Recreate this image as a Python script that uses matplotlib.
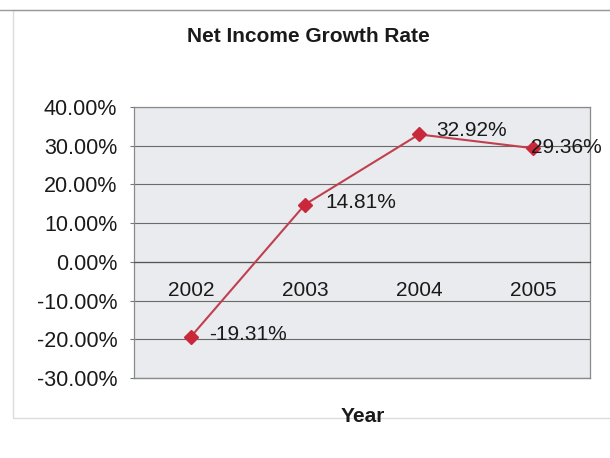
import matplotlib
matplotlib.use("Agg")
import matplotlib.pyplot as plt
from matplotlib.patches import Rectangle
from matplotlib.lines import Line2D
from matplotlib.ticker import FuncFormatter

plt.rcParams['font.family'] = ['Liberation Sans', 'DejaVu Sans']

# Net income growth rate by year (percent)
years = ["2002", "2003", "2004", "2005"]
growth = [-19.31, 14.81, 32.92, 29.36]
y_ticks = [-30, -20, -10, 0, 10, 20, 30, 40]

W, H = 610, 458
fig = plt.figure(figsize=(W / 100, H / 100), dpi=100)
fig.patch.set_facecolor("white")

# chart-area frame
fig.add_artist(Rectangle((13 / W, 1 - 418 / H), (W - 10) / W, (418 - 10) / H,
                         transform=fig.transFigure, fill=False,
                         edgecolor="#dcdcdc", linewidth=1.0))
fig.add_artist(Line2D([0, 1], [1 - 10 / H, 1 - 10 / H], transform=fig.transFigure,
                      color="#9a9a9a", linewidth=1.0))

ax = fig.add_axes([134 / W, 1 - 378 / H, 456 / W, 271 / H])
ax.set_facecolor("#e9ebee")

x = list(range(len(years)))
ax.plot(x, growth, color="#c0404f", linewidth=1.5, marker="D",
        markersize=7, markerfacecolor="#c8283a", markeredgecolor="#c8283a",
        zorder=3)

# value labels to the right of each point
label_offsets = [(18, 2), (20, 2), (17, 4), (-2, 1)]
for xi, v, (dx, dy) in zip(x, growth, label_offsets):
    ax.annotate(f"{v:.2f}%", (xi, v), xytext=(dx * 0.72, dy * 0.72),
                textcoords="offset points", ha="left", va="center",
                fontsize=15, color="#1a1a1a", zorder=4)

ax.set_xlim(-0.5, len(years) - 0.5)
ax.set_ylim(-30, 40)
ax.set_yticks(y_ticks)
ax.yaxis.set_major_formatter(FuncFormatter(lambda v, p: f"{v:.2f}%"))
ax.grid(axis="y", color="#6a6a6a", linewidth=0.8)
ax.set_axisbelow(True)
# lower edge of the plot area
ax.axhline(-30, color="#8a8a8a", linewidth=1.0, clip_on=False, zorder=2)

ax.set_xticks(x)
ax.set_xticklabels(years)
ax.spines["bottom"].set_position(("data", 0))
ax.spines["bottom"].set_color("#555555")
ax.spines["bottom"].set_linewidth(0.9)
for s in ("left", "right", "top"):
    ax.spines[s].set_color("#8a8a8a")
    ax.spines[s].set_linewidth(0.9)

ax.tick_params(axis="x", length=0, pad=14, labelsize=15, labelcolor="#1a1a1a")
ax.tick_params(axis="y", length=3, pad=9, labelsize=15.5, color="#777777",
               labelcolor="#1a1a1a")

fig.text(308 / W, 1 - 36 / H, "Net Income Growth Rate", ha="center", va="center",
         fontsize=15, fontweight="bold", color="#1a1a1a")
fig.text(363 / W, 1 - 417 / H, "Year", ha="center", va="center",
         fontsize=15, fontweight="bold", color="#1a1a1a")

fig.savefig("out.png", dpi=100)
